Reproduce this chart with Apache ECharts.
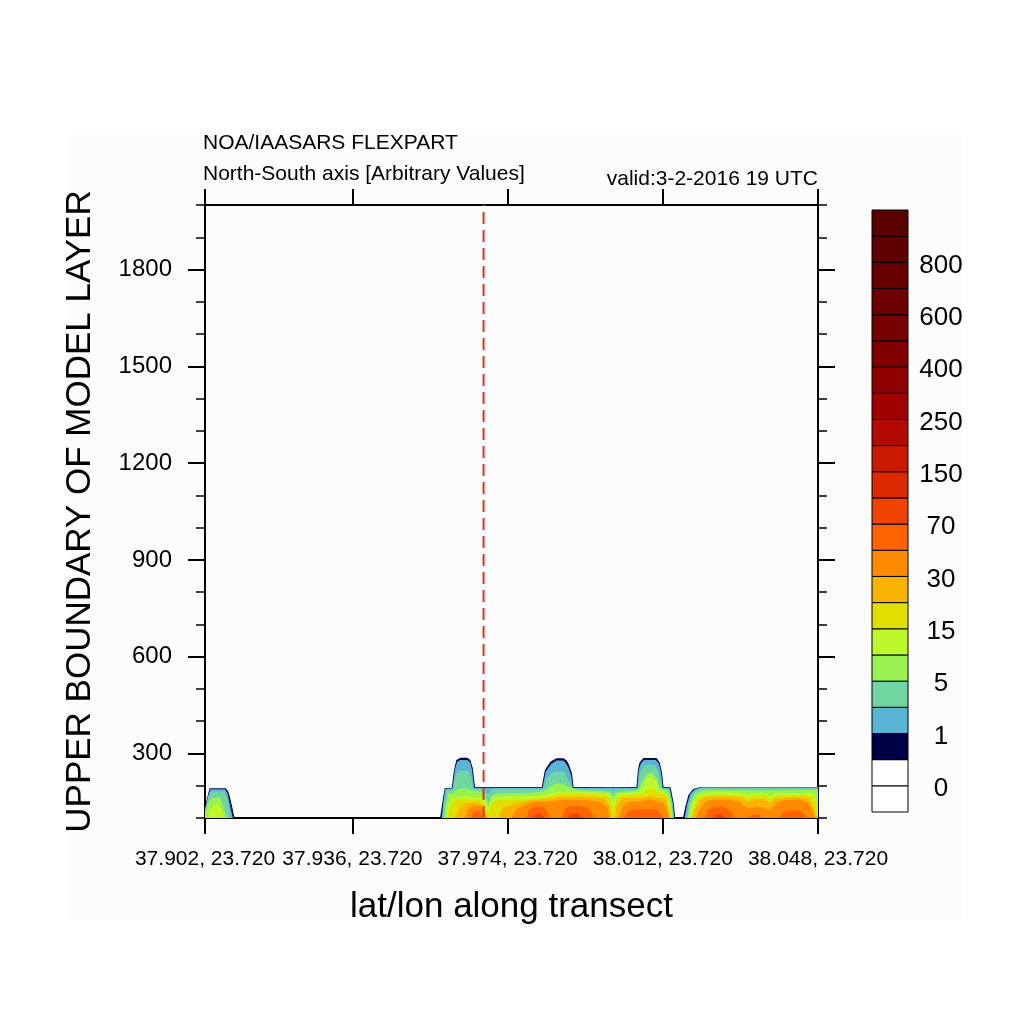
<!DOCTYPE html>
<html><head><meta charset="utf-8">
<script src="https://cdn.jsdelivr.net/npm/echarts@6/dist/echarts.min.js"></script>
<style>html,body{margin:0;padding:0;background:#fff}#c{width:1024px;height:1024px}</style>
</head><body><div id="c"></div>
<script>
// ---- data ----
const xTickIndex = [0, 19, 39, 59, 79];
const xTickLabels = ['37.902, 23.720', '37.936, 23.720', '37.974, 23.720', '38.012, 23.720', '38.048, 23.720'];
const yMajorTicks = [300, 600, 900, 1200, 1500, 1800];
const yMinorTicks = [100, 200, 300, 400, 500, 600, 700, 800, 900, 1000, 1100, 1200, 1300, 1400, 1500, 1600, 1700, 1800, 1900, 2000];
const yMin = 100, yMax = 2000, xMin = 0, xMax = 79;
const cbColors = ['#ffffff', '#ffffff', '#000046', '#5ab4d6', '#6fd6a2', '#99f152', '#bcf82a', '#e0df00', '#f8b400', '#ff8a00', '#ff6200', '#f04200', '#dc2a00', '#c81a00', '#b20a00', '#a00000', '#900000', '#800000', '#760000', '#6c0000', '#660000', '#610000', '#5a0000'];
const cbLabelPos = [1, 3, 5, 7, 9, 11, 13, 15, 17, 19, 21];
const cbLabels = ['0', '1', '5', '15', '30', '70', '150', '250', '400', '600', '800'];
const markerIndex = 35.9;

// height (m) reached by each contour level along the transect: [transect index, height]
const navyProfile = [[0,135],[0.3,165],[0.6,192],[2.7,192],[3.0,181],[3.2,166],[3.5,135],[3.8,100],
 [30.3,100],[30.5,135],[30.7,166],[30.9,193],[31.8,194],[32.1,250],[32.4,280],[32.9,287],[33.8,287],[34.2,280],[34.5,255],[34.8,196],[43.4,196],[43.8,248],[44.5,274],[45.3,285],[46.2,285],[46.6,278],[46.9,266],[47.3,238],[47.5,196],[52.3,195],[52.5,191],[52.7,195],[55.6,196],[55.8,250],[56.0,272],[56.5,286],[58.2,286],[58.6,272],[58.9,240],[59.1,196],[60.0,195],[60.4,146],[60.6,100],
 [61.6,100],[61.9,135],[62.3,171],[62.9,190],[63.8,196],[79,196]];
const blueProfile = [[0,128],[0.4,168],[0.7,189],[2.6,189],[2.9,176],[3.1,155],[3.4,120],[3.6,100],
 [30.5,100],[30.7,150],[30.95,191],[31.9,192],[32.2,250],[32.5,274],[32.9,280],[33.8,280],[34.2,272],[34.4,250],[34.7,194],[43.5,194],[43.9,243],[44.6,267],[45.3,278],[46.2,278],[46.5,270],[46.8,258],[47.2,232],[47.4,194],[52.3,193],[52.5,189],[52.7,193],[55.7,194],[55.9,250],[56.2,271],[56.6,280],[58.1,280],[58.5,268],[58.8,238],[59.0,194],[59.9,193],[60.3,146],[60.5,100],
 [61.8,100],[62.1,140],[62.5,174],[63.1,189],[63.9,195],[79,195]];
const tealProfile = [[0,122],[0.4,162],[0.8,182],[2.4,182],[2.8,166],[3.0,140],[3.3,100],
 [30.6,100],[30.8,140],[31.1,185],[31.9,188],[32.3,235],[32.7,246],[33.3,248],[34.0,244],[34.3,225],[34.5,190],[35.5,190],[36.1,188],[36.5,172],[36.9,188],[37.3,191],[43.5,191],[44.0,220],[44.7,240],[45.5,245],[46.3,242],[46.7,225],[47.1,205],[47.4,191],[52.3,190],[52.6,183],[52.9,190],[55.8,191],[56.1,245],[56.6,262],[57.3,266],[58.0,262],[58.4,245],[58.7,215],[58.9,191],[59.8,190],[60.2,146],[60.4,100],
 [62.0,100],[62.3,140],[62.8,175],[63.4,187],[64.2,192],[79,192]];
const greenProfile = [[0,118],[0.3,140],[0.9,162],[1.9,164],[2.3,140],[2.6,115],[2.8,100],
 [30.8,100],[31.0,140],[31.3,176],[32.0,180],[32.5,188],[33.5,192],[34.3,186],[35.5,182],[36.1,172],[36.5,145],[36.9,165],[37.5,176],[40,177],[42.5,179],[43.8,185],[45.0,205],[46.0,207],[47.0,195],[48.5,185],[51.5,183],[52.3,178],[52.6,165],[52.9,178],[54.5,183],[55.8,186],[56.5,222],[57.0,238],[57.6,240],[58.2,225],[58.6,195],[59.4,185],[59.8,180],[60.1,145],[60.3,100],
 [62.2,100],[62.5,140],[63.0,170],[63.6,182],[64.5,187],[70,186],[73,185],[76,187],[79,187]];
const yellowGreenProfile = [[0.3,100],[0.6,125],[1.1,143],[1.7,146],[2.1,130],[2.5,100],
 [31.0,100],[31.3,140],[31.6,162],[32.5,166],[33.5,168],[35.5,165],[36.1,158],[36.5,130],[36.9,156],[37.6,166],[40,168],[43,170],[44.5,176],[45.8,181],[47.5,181],[50,180],[52.0,177],[52.4,160],[52.6,150],[52.8,160],[53.2,176],[55.5,180],[56.5,195],[57.0,222],[57.6,226],[58.1,215],[58.5,185],[59.6,178],[60.0,140],[60.2,100],
 [62.4,100],[62.7,140],[63.2,165],[63.9,176],[65,180],[69.5,178],[70.2,172],[71,178],[72.3,177],[72.9,170],[73.5,177],[78.5,178],[78.8,150],[79,135]];
const yellowProfile = [[31.2,100],[31.6,135],[32.0,155],[33.0,158],[35.0,157],[35.9,150],[36.5,112],[37.0,145],[37.8,156],[41,158],[43.5,162],[45.8,175],[48,175],[51.5,172],[52.2,160],[52.6,120],[53.0,160],[53.6,170],[56.5,175],[57.2,192],[57.7,194],[58.2,180],[59.5,170],[59.9,130],[60.1,100],
 [62.6,100],[62.9,130],[63.4,158],[64.2,170],[66,173],[69.3,170],[70.0,160],[70.7,168],[72.3,168],[72.8,158],[73.4,168],[77.5,172],[78.5,165],[78.9,120],[79,100]];
const amberProfile = [[32.2,100],[32.8,130],[33.5,146],[35.0,148],[35.8,140],[36.3,105],[36.6,100],[37.8,100],[38.3,130],[39.5,142],[41.9,155],[44.0,158],[45.8,166],[49,166],[51.5,162],[52.1,140],[52.5,100],[52.8,100],[53.1,140],[53.7,162],[57,164],[57.5,168],[58.0,164],[59.4,160],[59.8,120],[59.95,100],
 [62.8,100],[63.2,130],[63.8,155],[64.6,165],[67,167],[69.2,162],[69.9,148],[70.6,158],[72.2,158],[72.8,145],[73.5,160],[76,166],[77.8,160],[78.5,130],[78.8,100]];
const orangeProfile = [[33.5,100],[33.8,125],[34.5,138],[35.5,138],[35.9,125],[36.1,100],[39.5,100],[40.0,125],[41.5,145],[42.5,150],[44.0,150],[45.8,156],[49,156],[51,150],[51.8,135],[52.2,100],[53.3,100],[53.8,135],[54.6,150],[56.5,152],[57.4,157],[58.3,152],[59.2,145],[59.6,115],[59.8,100],
 [63.3,100],[63.8,130],[64.5,150],[65.5,158],[67.5,157],[68.8,150],[69.5,135],[70.3,130],[71.3,135],[72.0,130],[72.8,125],[73.6,145],[74.5,155],[76.5,157],[77.8,148],[78.3,120],[78.6,100]];
const darkOrangeProfile = [[34.3,100],[34.6,120],[35.3,124],[35.7,110],[35.8,100],[41.4,100],[41.8,128],[42.8,136],[43.8,132],[44.2,115],[44.4,100],[46.0,100],[46.3,125],[47.0,137],[48.5,137],[49.6,128],[50.2,100],[54.0,100],[54.5,120],[55.5,128],[57.0,128],[58.2,126],[58.7,115],[59.0,100],
 [64.4,100],[64.8,125],[65.8,135],[67.0,133],[67.8,120],[68.2,100],[70.0,100],[70.5,110],[71.2,112],[71.8,100],[74.0,100],[74.5,118],[75.5,125],[76.8,122],[77.4,108],[77.6,100]];
const redOrangeProfile = [[42.2,100],[42.5,112],[43.3,115],[43.7,100],[46.8,100],[47.1,112],[48.0,115],[48.6,100],[65.5,100],[65.9,112],[66.6,112],[67.0,100]];

const levelProfiles = [navyProfile, blueProfile, tealProfile, greenProfile, yellowGreenProfile, yellowProfile, amberProfile, orangeProfile, darkOrangeProfile, redOrangeProfile];
const levelBands = [2, 3, 4, 5, 6, 7, 8, 9, 10, 11];

// ---- chart ----
const FONT = 'Liberation Sans, Arial, Helvetica, sans-serif';
const chart = echarts.init(document.getElementById('c'), null, {renderer: 'canvas'});
const black = '#000';

const series = levelProfiles.map((prof, i) => ({
  type: 'line', xAxisIndex: 0, yAxisIndex: 0, data: prof,
  symbol: 'none', smooth: false, silent: true,
  lineStyle: {width: 0, color: cbColors[levelBands[i]]},
  areaStyle: {origin: 'start', color: cbColors[levelBands[i]], opacity: 1},
  z: 2
}));
series.push({
  type: 'line', xAxisIndex: 0, yAxisIndex: 0,
  data: [[markerIndex, yMin], [markerIndex, yMax]],
  symbol: 'none', silent: true, z: 5,
  lineStyle: {color: '#e5301c', width: 2, type: [12, 6]}
});
series.push({
  type: 'custom', xAxisIndex: 2, yAxisIndex: 4,
  data: cbColors.map((c, i) => [i]),
  renderItem: function (params, api) {
    const k = api.value(0);
    const p0 = api.coord([0, k]);
    const p1 = api.coord([1, k + 1]);
    return {type: 'rect', shape: {x: p0[0], y: p1[1], width: p1[0] - p0[0], height: p0[1] - p1[1]},
      style: {fill: cbColors[k], stroke: black, lineWidth: 1}};
  }
});

const tickStyle = (w) => ({color: black, width: w});
const titleStyle = {fontFamily: FONT, fontSize: 21, fontWeight: 'normal', color: black};
const option = {
  animation: false,
  backgroundColor: '#ffffff',
  graphic: [{type: 'rect', z: -10, shape: {x: 68, y: 135, width: 894, height: 785}, style: {fill: '#fcfcfc'}}],
  title: [
    {text: 'NOA/IAASARS FLEXPART', left: 203, top: 133, padding: 0, textStyle: titleStyle},
    {text: 'North-South axis [Arbitrary Values]', left: 203, top: 164, padding: 0, textStyle: titleStyle},
    {text: 'valid:3-2-2016 19 UTC', right: 206, top: 169, padding: 0, textStyle: titleStyle}
  ],
  grid: [
    {left: 205, top: 205, width: 613, height: 613, containLabel: false},
    {left: 872, top: 210, width: 36, height: 602, containLabel: false}
  ],
  xAxis: [
    {gridIndex: 0, type: 'value', min: xMin, max: xMax, position: 'bottom',
     axisLine: {show: true, lineStyle: tickStyle(2)},
     axisTick: {show: true, customValues: xTickIndex, length: 16, lineStyle: tickStyle(2)},
     axisLabel: {show: true, customValues: xTickIndex, showMinLabel: true, showMaxLabel: true,
       formatter: (v) => xTickLabels[xTickIndex.indexOf(Math.round(v))] || '',
       margin: 31, fontSize: 21, fontFamily: FONT, color: black},
     splitLine: {show: false},
     name: 'lat/lon along transect', nameLocation: 'middle', nameGap: 72,
     nameTextStyle: {fontFamily: FONT, fontSize: 35, color: black}},
    {gridIndex: 0, type: 'value', min: xMin, max: xMax, position: 'top',
     axisLine: {show: true, lineStyle: tickStyle(2)},
     axisTick: {show: true, customValues: xTickIndex, length: 16, lineStyle: tickStyle(2)},
     axisLabel: {show: false}, splitLine: {show: false}},
    {gridIndex: 1, type: 'value', min: 0, max: 1, show: false}
  ],
  yAxis: [
    {gridIndex: 0, type: 'value', min: yMin, max: yMax, position: 'left',
     axisLine: {show: true, lineStyle: tickStyle(2)},
     axisTick: {show: true, customValues: yMajorTicks, length: 17, lineStyle: tickStyle(2)},
     axisLabel: {show: true, customValues: yMajorTicks, formatter: (v) => String(Math.round(v)),
       margin: 33, fontSize: 24, fontFamily: FONT, color: black},
     splitLine: {show: false},
     name: 'UPPER BOUNDARY OF MODEL LAYER', nameLocation: 'middle', nameGap: 107, nameRotate: 90,
     nameTextStyle: {fontFamily: FONT, fontSize: 35, color: black}},
    {gridIndex: 0, type: 'value', min: yMin, max: yMax, position: 'left',
     axisLine: {show: false},
     axisTick: {show: true, customValues: yMinorTicks, length: 9, lineStyle: tickStyle(1.5)},
     axisLabel: {show: false}, splitLine: {show: false}},
    {gridIndex: 0, type: 'value', min: yMin, max: yMax, position: 'right',
     axisLine: {show: true, lineStyle: tickStyle(2)},
     axisTick: {show: true, customValues: yMajorTicks, length: 17, lineStyle: tickStyle(2)},
     axisLabel: {show: false}, splitLine: {show: false}},
    {gridIndex: 0, type: 'value', min: yMin, max: yMax, position: 'right',
     axisLine: {show: false},
     axisTick: {show: true, customValues: yMinorTicks, length: 9, lineStyle: tickStyle(1.5)},
     axisLabel: {show: false}, splitLine: {show: false}},
    {gridIndex: 1, type: 'value', min: 0, max: cbColors.length, position: 'right',
     axisLine: {show: false}, axisTick: {show: false}, splitLine: {show: false},
     axisLabel: {show: true, customValues: cbLabelPos,
       formatter: (v) => '{a|' + (cbLabels[cbLabelPos.indexOf(Math.round(v))] || '') + '}',
       rich: {a: {fontSize: 26, fontFamily: FONT, color: black, padding: [6, 0, 0, 0]}},
       margin: 33, align: 'center', fontSize: 26, fontFamily: FONT, color: black}}
  ],
  series: series
};
chart.setOption(option);
</script>
</body></html>
